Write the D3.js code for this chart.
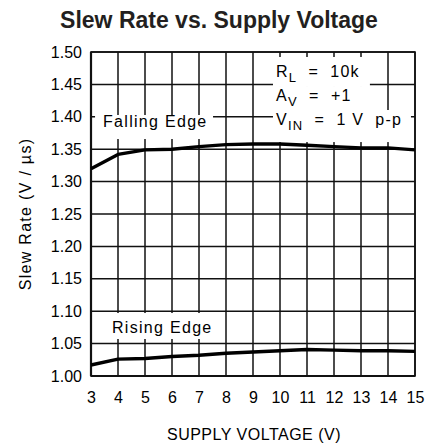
<!DOCTYPE html>
<html>
<head>
<meta charset="utf-8">
<script src="https://cdn.jsdelivr.net/npm/d3@7"></script>
<style>
  html, body { margin: 0; padding: 0; background: #fff; }
  svg text { font-family: "Liberation Sans", Arial, sans-serif; fill: #000; white-space: pre; }
</style>
</head>
<body>
<svg id="chart" width="429" height="444"></svg>
<script>
// Supply voltage (V) at which slew rate was measured
const supplyVoltage = [3, 4, 5, 6, 7, 8, 9, 10, 11, 12, 13, 14, 15];
// Slew rate (V/µs) for the falling and rising output edge
const fallingEdge = [1.320, 1.342, 1.349, 1.350, 1.354, 1.357, 1.358, 1.358, 1.356, 1.354, 1.352, 1.352, 1.349];
const risingEdge  = [1.017, 1.026, 1.027, 1.030, 1.032, 1.035, 1.037, 1.039, 1.041, 1.040, 1.039, 1.039, 1.038];
// Axis ticks
const xTicks = [3, 4, 5, 6, 7, 8, 9, 10, 11, 12, 13, 14, 15];
const yTicks = [1.00, 1.05, 1.10, 1.15, 1.20, 1.25, 1.30, 1.35, 1.40, 1.45, 1.50];

const svg = d3.select("#chart");
const m = { left: 91, top: 52, right: 14, bottom: 68 };
const W = 429 - m.left - m.right;
const H = 444 - m.top - m.bottom;

const x = d3.scaleLinear().domain([3, 15]).range([m.left, m.left + W]);
const y = d3.scaleLinear().domain([1.00, 1.50]).range([m.top + H, m.top]);

// Title
svg.append("text")
  .attr("x", 219).attr("y", 28)
  .attr("text-anchor", "middle")
  .style("font-size", "23px").style("font-weight", "bold").style("fill", "#231f20")
  .text("Slew Rate vs. Supply Voltage");

// Grid
const grid = svg.append("g").attr("stroke", "#111").attr("stroke-width", 1.5);
grid.selectAll("line.v").data(xTicks).join("line")
  .attr("x1", d => x(d)).attr("x2", d => x(d))
  .attr("y1", m.top).attr("y2", m.top + H);
grid.selectAll("line.h").data(yTicks).join("line")
  .attr("x1", m.left).attr("x2", m.left + W)
  .attr("y1", d => y(d)).attr("y2", d => y(d));

// White label backgrounds that interrupt the grid
const masks = [
  [3.15, 7.52, 1.4028, 1.3657],   // Falling Edge
  [3.15, 7.60, 1.0972, 1.0571],   // Rising Edge
  [9.74, 13.33, 1.4923, 1.4475],  // R_L row
  [9.74, 13.40, 1.4475, 1.4105],  // A_V row
  [9.74, 14.85, 1.4105, 1.3610]   // V_IN row
];
svg.append("g").selectAll("rect").data(masks).join("rect")
  .attr("x", d => x(d[0])).attr("width", d => x(d[1]) - x(d[0]))
  .attr("y", d => y(d[2])).attr("height", d => y(d[3]) - y(d[2]))
  .attr("fill", "#fff");

// Frame
svg.append("rect")
  .attr("x", m.left).attr("y", m.top).attr("width", W).attr("height", H)
  .attr("fill", "none").attr("stroke", "#111").attr("stroke-width", 1.6);
svg.append("line")
  .attr("x1", m.left).attr("x2", m.left)
  .attr("y1", m.top).attr("y2", m.top + H)
  .attr("stroke", "#111").attr("stroke-width", 2.2);
svg.append("line")
  .attr("x1", m.left).attr("x2", m.left + W)
  .attr("y1", m.top + H).attr("y2", m.top + H)
  .attr("stroke", "#111").attr("stroke-width", 2.2);

// Tick labels via d3 axes (text only)
const yAxis = svg.append("g")
  .attr("transform", `translate(${m.left},0)`)
  .call(d3.axisLeft(y).tickValues(yTicks).tickFormat(d3.format(".2f")).tickSize(0).tickPadding(9));
yAxis.select(".domain").remove();
yAxis.selectAll("text").style("font-size", "16px").style("font-family", "Liberation Sans, Arial, sans-serif");

const xAxis = svg.append("g")
  .attr("transform", `translate(0,${m.top + H})`)
  .call(d3.axisBottom(x).tickValues(xTicks).tickFormat(d3.format("d")).tickSize(0).tickPadding(16));
xAxis.select(".domain").remove();
xAxis.selectAll("text").style("font-size", "16px").style("font-family", "Liberation Sans, Arial, sans-serif");

// Axis titles
svg.append("text")
  .attr("x", 254).attr("y", 440)
  .attr("text-anchor", "middle")
  .style("font-size", "16px").style("letter-spacing", "0.5px")
  .text("SUPPLY VOLTAGE (V)");
svg.append("text")
  .attr("transform", "translate(31,214) rotate(-90)")
  .attr("text-anchor", "middle")
  .style("font-size", "16px").style("letter-spacing", "1.3px")
  .text("Slew Rate (V / µs)");

// Curves
const line = d3.line().x((d, i) => x(supplyVoltage[i])).y(d => y(d));
[fallingEdge, risingEdge].forEach(s => {
  svg.append("path").datum(s)
    .attr("d", line)
    .attr("fill", "none").attr("stroke", "#000")
    .attr("stroke-width", 3.4).attr("stroke-linejoin", "round");
});

// Curve labels
function label(px, py, txt) {
  svg.append("text").attr("x", px).attr("y", py)
    .style("font-size", "16px").style("letter-spacing", "1.3px")
    .text(txt);
}
label(103, 127, "Falling Edge");
label(112, 333, "Rising Edge");

// Test conditions
function cond(py, main, sub, rest) {
  const t = svg.append("text").attr("x", 276).attr("y", py)
    .style("font-size", "16px").style("letter-spacing", "1.2px");
  t.append("tspan").text(main);
  t.append("tspan").attr("dy", 5).style("font-size", "13px").text(sub);
  t.append("tspan").attr("dy", -5).text(rest);
}
cond(77, "R", "L", "  =  10k");
cond(101, "A", "V", "  =  +1");
cond(125, "V", "IN", "  =  1 V  p-p");
</script>
</body>
</html>
